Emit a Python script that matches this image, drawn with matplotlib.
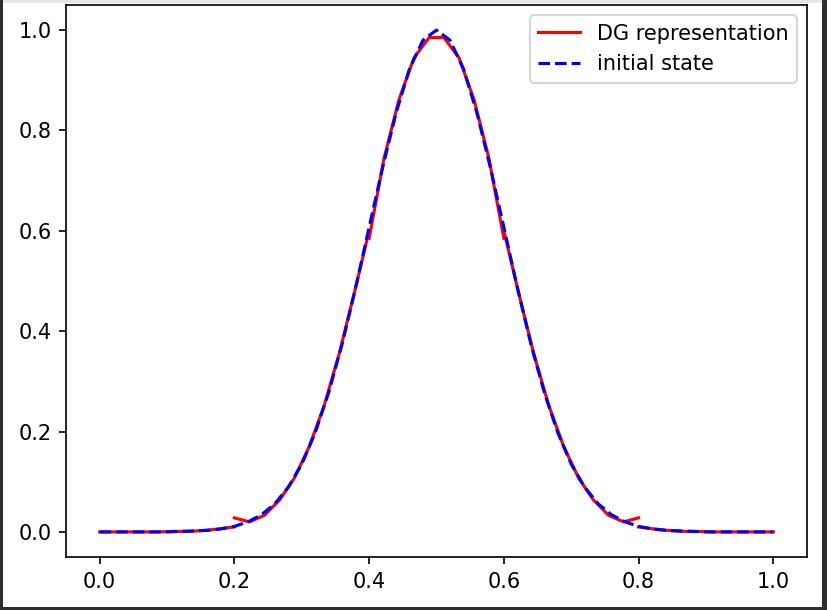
import numpy as np
import matplotlib
matplotlib.use("Agg")
import matplotlib.pyplot as plt
from matplotlib.patches import Rectangle

# ---- data ----
element_edges = [0.0, 0.2, 0.4, 0.6, 0.8, 1.0]
points_per_element = 10

dg_element_1 = [0.000, 0.000, 0.000, 0.000, 0.000, 0.001, 0.001, 0.003, 0.006, 0.010]
dg_element_2 = [0.028, 0.020, 0.033, 0.063, 0.107, 0.170, 0.252, 0.355, 0.475, 0.600]
dg_element_3 = [0.585, 0.745, 0.862, 0.945, 0.985, 0.985, 0.945, 0.862, 0.745, 0.585]
dg_element_4 = [0.600, 0.475, 0.355, 0.252, 0.170, 0.107, 0.063, 0.033, 0.020, 0.028]
dg_element_5 = [0.010, 0.006, 0.003, 0.001, 0.001, 0.000, 0.000, 0.000, 0.000, 0.000]
dg_values = [dg_element_1, dg_element_2, dg_element_3, dg_element_4, dg_element_5]

initial_x_count = 51
initial_values = [
    0.000, 0.000, 0.000, 0.000, 0.000, 0.000, 0.001, 0.002, 0.003, 0.006,
    0.011, 0.020, 0.034, 0.056, 0.089, 0.135, 0.198, 0.278, 0.375, 0.487,
    0.607, 0.726, 0.835, 0.923, 0.980, 1.000, 0.980, 0.923, 0.835, 0.726,
    0.607, 0.487, 0.375, 0.278, 0.198, 0.135, 0.089, 0.056, 0.034, 0.020,
    0.011, 0.006, 0.003, 0.002, 0.001, 0.000, 0.000, 0.000, 0.000, 0.000,
    0.000,
]
x_ticks = [0.0, 0.2, 0.4, 0.6, 0.8, 1.0]
y_ticks = [0.0, 0.2, 0.4, 0.6, 0.8, 1.0]

# ---- figure ----
DPI = 150
W, H = 827, 610
fig = plt.figure(figsize=(W / DPI, H / DPI), dpi=DPI)
ax = fig.add_axes([66 / W, 1 - 557 / H, (807 - 66) / W, (557 - 5) / H])

for i, vals in enumerate(dg_values):
    xs = np.linspace(element_edges[i], element_edges[i + 1], points_per_element)
    ax.plot(xs, vals, color="red", linestyle="-",
            label="DG representation" if i == 0 else None)

x_init = np.linspace(0.0, 1.0, initial_x_count)
ax.plot(x_init, initial_values, color="blue", linestyle="--", label="initial state")

ax.set_xticks(x_ticks)
ax.set_yticks(y_ticks)
ax.legend(loc="upper right")

# screenshot frame
fig.add_artist(Rectangle((0, 0), 3 / W, 1, transform=fig.transFigure,
                         facecolor="#2e2e2e", edgecolor="none"))
fig.add_artist(Rectangle((822 / W, 0), 5 / W, 1, transform=fig.transFigure,
                         facecolor="#2e2e2e", edgecolor="none"))
fig.add_artist(Rectangle((0, 0), 1, 3 / H, transform=fig.transFigure,
                         facecolor="#2e2e2e", edgecolor="none"))
fig.add_artist(Rectangle((3 / W, 1 - 3 / H), 819 / W, 3 / H, transform=fig.transFigure,
                         facecolor="#e6e6e6", edgecolor="none"))

fig.savefig("out.png", dpi=DPI)
